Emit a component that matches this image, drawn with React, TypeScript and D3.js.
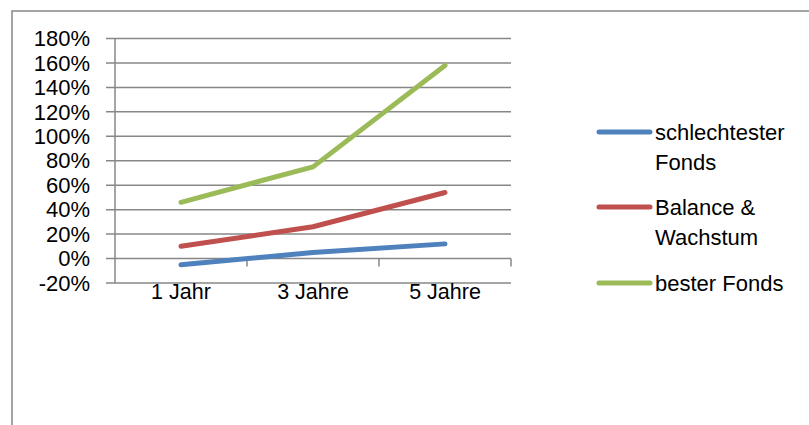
import React from "react";
import * as d3 from "d3";

const categories = ["1 Jahr", "3 Jahre", "5 Jahre"];
const seriesNames = ["schlechtester Fonds", "Balance & Wachstum", "bester Fonds"];
const legendLines = [["schlechtester", "Fonds"], ["Balance &", "Wachstum"], ["bester Fonds"]];
const worstFund = [-5, 5, 12];
const balanceGrowth = [10, 26, 54];
const bestFund = [46, 75, 158];
const yTicks = [-20, 0, 20, 40, 60, 80, 100, 120, 140, 160, 180];
const colors = ["#4F81BD", "#C0504D", "#9BBB59"];

export default function App() {
  const W = 809, H = 425;
  const left = 115, right = 511, top = 38.5, bottom = 283;
  const x = d3.scaleBand<string>().domain(categories).range([left, right]);
  const y = d3.scaleLinear().domain([-20, 180]).range([bottom, top]);
  const series = [worstFund, balanceGrowth, bestFund];
  const line = d3
    .line<number>()
    .x((_, i) => (x(categories[i]) as number) + x.bandwidth() / 2)
    .y((d) => y(d));
  const font = "'Liberation Sans', Arial, sans-serif";
  const grid = "#878787";
  const legendY = [132, 207, 283];
  return (
    <svg width={W} height={H} style={{ position: "absolute", left: 0, top: 0, background: "#fff" }} fontFamily={font}>
      <rect x={12} y={11} width={W + 20} height={H + 20} fill="#fff" stroke={grid} strokeWidth={1.5} />
      {yTicks.map((t) => (
        <g key={t}>
          <line x1={left - 9} x2={right} y1={y(t)} y2={y(t)} stroke={grid} strokeWidth={1.5} />
          <text x={90} y={y(t)} dy="0.35em" textAnchor="end" fontSize={22} fill="#000">
            {t}%
          </text>
        </g>
      ))}
      <line x1={left} x2={left} y1={top} y2={bottom} stroke={grid} strokeWidth={1.5} />
      {categories.map((c) => (
        <line key={c} x1={(x(c) as number) + x.bandwidth()} x2={(x(c) as number) + x.bandwidth()} y1={y(0)} y2={y(0) + 8} stroke={grid} strokeWidth={1.5} />
      ))}
      {categories.map((c) => (
        <text key={c} x={(x(c) as number) + x.bandwidth() / 2} y={299} textAnchor="middle" fontSize={21.5} fill="#000">
          {c}
        </text>
      ))}
      {series.map((s, i) => (
        <path key={seriesNames[i]} d={line(s) as string} fill="none" stroke={colors[i]} strokeWidth={5} strokeLinecap="round" strokeLinejoin="round" />
      ))}
      {legendLines.map((lines, i) => (
        <g key={i}>
          <line x1={599} x2={650} y1={legendY[i]} y2={legendY[i]} stroke={colors[i]} strokeWidth={5} strokeLinecap="round" />
          {lines.map((l, j) => (
            <text key={j} x={655} y={legendY[i] + j * 30} dy="0.35em" fontSize={22} fill="#000">
              {l}
            </text>
          ))}
        </g>
      ))}
    </svg>
  );
}
